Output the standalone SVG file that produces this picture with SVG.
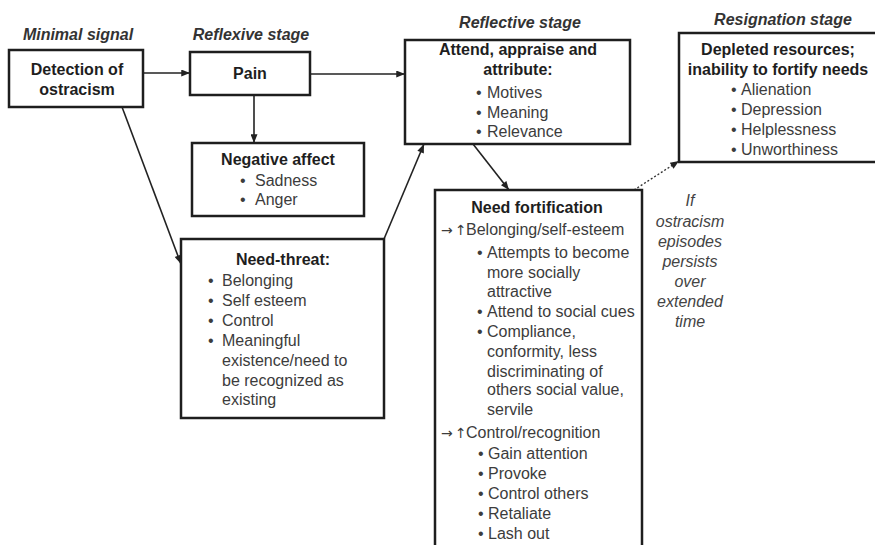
<svg xmlns="http://www.w3.org/2000/svg" width="875" height="545" viewBox="0 0 875 545">
  <style>
    text { font-family: "Liberation Sans", Arial, sans-serif; font-size: 16px; }
    .stage { font-weight: bold; font-style: italic; fill: #333; text-anchor: middle; }
    .head { font-weight: bold; fill: #1e1e1e; text-anchor: middle; }
    .item { fill: #3c3c3c; }
    .sym { font-family: "DejaVu Sans", sans-serif; font-size: 14px; }
    .note { font-style: italic; fill: #444; text-anchor: middle; }
    .box { fill: #fff; stroke: #1e1e1e; stroke-width: 2.5; }
    .link { fill: none; stroke: #222; stroke-width: 1.6; }
    .dotted { fill: none; stroke: #333; stroke-width: 1.3; stroke-dasharray: 2 2; }
  </style>
  <defs>
    <marker id="head" viewBox="0 0 10 8" refX="10" refY="4" markerWidth="10" markerHeight="7" markerUnits="userSpaceOnUse" orient="auto">
      <path d="M0,0 L10,4 L0,8 Z" fill="#222"/>
    </marker>
  </defs>

  <rect width="875" height="545" fill="#fff"/>

  <!-- stage titles -->
  <g id="stage-labels">
    <text class="stage" x="78" y="40">Minimal signal</text>
    <text class="stage" x="251" y="40">Reflexive stage</text>
    <text class="stage" x="520" y="28">Reflective stage</text>
    <text class="stage" x="783" y="25">Resignation stage</text>
  </g>

  <!-- connectors -->
  <g id="connectors">
    <line class="link" x1="143" y1="73" x2="190" y2="73" marker-end="url(#head)"/>
    <line class="link" x1="310" y1="74" x2="405" y2="74" marker-end="url(#head)"/>
    <line class="link" x1="254" y1="95" x2="254" y2="143" marker-end="url(#head)"/>
    <line class="link" x1="122" y1="107" x2="181" y2="264" marker-end="url(#head)"/>
    <line class="link" x1="384" y1="239" x2="424" y2="144" marker-end="url(#head)"/>
    <line class="link" x1="473" y1="144" x2="509" y2="190" marker-end="url(#head)"/>
    <line class="dotted" x1="634" y1="190" x2="679" y2="161" marker-end="url(#head)"/>
  </g>

  <g id="detection">
    <rect class="box" x="9" y="50" width="134" height="57"/>
    <text class="head" x="77" y="75">Detection of</text>
    <text class="head" x="77" y="95">ostracism</text>
  </g>

  <g id="pain">
    <rect class="box" x="190" y="52" width="120" height="43"/>
    <text class="head" x="250" y="79">Pain</text>
  </g>

  <g id="negative-affect">
    <rect class="box" x="192" y="143" width="172" height="73"/>
    <text class="head" x="278" y="165">Negative affect</text>
    <text class="item" x="240" y="186">•</text><text class="item" x="255" y="186">Sadness</text>
    <text class="item" x="240" y="205">•</text><text class="item" x="255" y="205">Anger</text>
  </g>

  <g id="need-threat">
    <rect class="box" x="181" y="239" width="203" height="179"/>
    <text class="head" x="283" y="265">Need-threat:</text>
    <text class="item" x="208" y="286">•</text><text class="item" x="222" y="286">Belonging</text>
    <text class="item" x="208" y="306">•</text><text class="item" x="222" y="306">Self esteem</text>
    <text class="item" x="208" y="326">•</text><text class="item" x="222" y="326">Control</text>
    <text class="item" x="208" y="346">•</text><text class="item" x="222" y="346">Meaningful</text>
    <text class="item" x="222" y="366">existence/need to</text>
    <text class="item" x="222" y="386">be recognized as</text>
    <text class="item" x="222" y="405">existing</text>
  </g>

  <g id="reflective">
    <rect class="box" x="405" y="40" width="225" height="104"/>
    <text class="head" x="518" y="55">Attend, appraise and</text>
    <text class="head" x="518" y="75">attribute:</text>
    <text class="item" x="476" y="98">•</text><text class="item" x="487" y="98">Motives</text>
    <text class="item" x="476" y="118">•</text><text class="item" x="487" y="118">Meaning</text>
    <text class="item" x="476" y="137">•</text><text class="item" x="487" y="137">Relevance</text>
  </g>

  <g id="need-fortification">
    <rect class="box" x="435" y="190" width="207" height="370"/>
    <text class="head" x="537" y="213">Need fortification</text>
    <text class="item" y="235"><tspan class="sym" x="441">→</tspan><tspan class="sym" x="455">↑</tspan><tspan x="466">Belonging/self-esteem</tspan></text>
    <text class="item" x="477" y="258">•</text><text class="item" x="487" y="258">Attempts to become</text>
    <text class="item" x="487" y="278">more socially</text>
    <text class="item" x="487" y="297">attractive</text>
    <text class="item" x="477" y="317">•</text><text class="item" x="487" y="317">Attend to social cues</text>
    <text class="item" x="477" y="337">•</text><text class="item" x="487" y="337">Compliance,</text>
    <text class="item" x="487" y="357">conformity, less</text>
    <text class="item" x="487" y="377">discriminating of</text>
    <text class="item" x="487" y="395">others social value,</text>
    <text class="item" x="487" y="415">servile</text>
    <text class="item" y="438"><tspan class="sym" x="441">→</tspan><tspan class="sym" x="455">↑</tspan><tspan x="466">Control/recognition</tspan></text>
    <text class="item" x="478" y="459">•</text><text class="item" x="488" y="459">Gain attention</text>
    <text class="item" x="478" y="479">•</text><text class="item" x="488" y="479">Provoke</text>
    <text class="item" x="478" y="499">•</text><text class="item" x="488" y="499">Control others</text>
    <text class="item" x="478" y="519">•</text><text class="item" x="488" y="519">Retaliate</text>
    <text class="item" x="478" y="539">•</text><text class="item" x="488" y="539">Lash out</text>
  </g>

  <g id="resignation">
    <rect class="box" x="679" y="33" width="220" height="129"/>
    <text class="head" x="778" y="55">Depleted resources;</text>
    <text class="head" x="778" y="75">inability to fortify needs</text>
    <text class="item" x="731" y="95">•</text><text class="item" x="741" y="95">Alienation</text>
    <text class="item" x="731" y="115">•</text><text class="item" x="741" y="115">Depression</text>
    <text class="item" x="731" y="135">•</text><text class="item" x="741" y="135">Helplessness</text>
    <text class="item" x="731" y="155">•</text><text class="item" x="741" y="155">Unworthiness</text>
  </g>

  <g id="persistence-note">
    <text class="note" x="690" y="206">If</text>
    <text class="note" x="690" y="227">ostracism</text>
    <text class="note" x="690" y="247">episodes</text>
    <text class="note" x="690" y="267">persists</text>
    <text class="note" x="690" y="287">over</text>
    <text class="note" x="690" y="307">extended</text>
    <text class="note" x="690" y="327">time</text>
  </g>
</svg>
